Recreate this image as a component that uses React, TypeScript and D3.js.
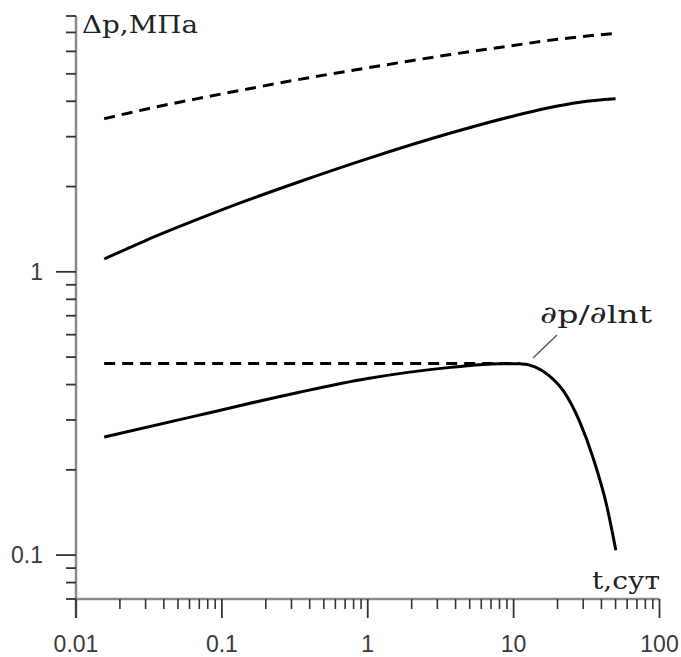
import React from "react";
import * as d3 from "d3";

// ---- Data ----
const xTickLabels = ["0.01", "0.1", "1", "10", "100"];
const xMajorTicks = [0.01, 0.1, 1, 10, 100];
const yMajorTicks = [0.1, 1];
const yTickLabels = ["0.1", "1"];

// Δp, infinite-acting (dashed)
const dashedPressureT = [0.0156, 0.03, 0.07, 0.15, 0.34, 1, 3.7, 10, 20, 50];
const dashedPressure = [3.47, 3.75, 4.1, 4.42, 4.78, 5.25, 5.85, 6.3, 6.62, 6.95];

// Δp, bounded (solid)
const solidPressureT = [0.0156, 0.03, 0.07, 0.15, 0.34, 1, 3.7, 10, 16.8, 28.5, 50];
const solidPressure = [1.11, 1.29, 1.54, 1.79, 2.08, 2.51, 3.09, 3.55, 3.78, 3.97, 4.08];

// ∂p/∂lnt, infinite-acting (dashed)
const dashedDerivT = [0.0156, 11];
const dashedDeriv = [0.475, 0.475];

// ∂p/∂lnt, bounded (solid)
const solidDerivT = [0.0156, 0.07, 0.34, 1, 3.7, 8, 11, 14, 17.5, 22, 28.5, 35.1, 43.4, 50.2];
const solidDeriv = [0.261, 0.312, 0.376, 0.42, 0.46, 0.474, 0.474, 0.462, 0.43, 0.379, 0.294, 0.22, 0.15, 0.104];

const yAxisLabel = "Δp,МПа";
const xAxisLabel = "t,сут";
const derivLabel = "∂p/∂lnt";

export default function App() {
  const W = 681;
  const H = 657;
  const x = d3.scaleLog().domain([0.01, 100]).range([76, 659.5]);
  const y = d3.scaleLog().domain([0.07, 8]).range([599, 16]);

  const line = (ts: number[], vs: number[]) =>
    d3
      .line<number>()
      .x((_, i) => x(ts[i]))
      .y((v) => y(v))
      .curve(d3.curveMonotoneX)(vs) || "";

  // minor ticks
  const xMinor: number[] = [];
  for (let d = 0.01; d < 100; d *= 10) {
    for (let k = 2; k <= 9; k++) xMinor.push(+(d * k).toPrecision(3));
  }
  const yMinor: number[] = [0.07, 0.08, 0.09];
  for (let k = 2; k <= 9; k++) yMinor.push(+(0.1 * k).toPrecision(3));
  for (let k = 2; k <= 8; k++) yMinor.push(k);

  const axisColor = "#8a8a8a";
  const tickColor = "#333";
  const sans = "'Liberation Sans', Arial, sans-serif";
  const serif = "'DejaVu Serif', serif";

  return (
    <svg
      width={W}
      height={H}
      style={{ position: "absolute", left: 0, top: 0, background: "#fff" }}
    >
      {/* axes */}
      <line x1={x(0.01)} y1={y(8)} x2={x(0.01)} y2={618} stroke={axisColor} strokeWidth={2.5} />
      <line x1={x(0.01)} y1={599} x2={x(100)} y2={599} stroke={axisColor} strokeWidth={2.5} />

      {/* x ticks */}
      {xMinor.map((t) => (
        <line key={"xm" + t} x1={x(t)} x2={x(t)} y1={599} y2={609} stroke={tickColor} strokeWidth={1.6} />
      ))}
      {xMajorTicks.map((t) => (
        <line key={"xM" + t} x1={x(t)} x2={x(t)} y1={599} y2={618} stroke={tickColor} strokeWidth={1.8} />
      ))}
      {xMajorTicks.map((t, i) => (
        <text
          key={"xl" + t}
          x={x(t)}
          y={651.5}
          textAnchor="middle"
          fontFamily={sans}
          fontSize={23}
          fill="#3a3a3a"
        >
          {xTickLabels[i]}
        </text>
      ))}

      {/* y ticks */}
      {yMinor.map((v) => (
        <line key={"ym" + v} x1={66} x2={x(0.01)} y1={y(v)} y2={y(v)} stroke={tickColor} strokeWidth={1.8} />
      ))}
      {yMajorTicks.map((v) => (
        <line key={"yM" + v} x1={56} x2={x(0.01)} y1={y(v)} y2={y(v)} stroke={tickColor} strokeWidth={1.8} />
      ))}
      {yMajorTicks.map((v, i) => (
        <text
          key={"yl" + v}
          x={43}
          y={y(v) + 8}
          textAnchor="end"
          fontFamily={sans}
          fontSize={23}
          fill="#3a3a3a"
        >
          {yTickLabels[i]}
        </text>
      ))}

      {/* curves */}
      <path d={line(solidPressureT, solidPressure)} fill="none" stroke="#000" strokeWidth={3} />
      <path
        d={line(dashedPressureT, dashedPressure)}
        fill="none"
        stroke="#000"
        strokeWidth={3}
        strokeDasharray="11 7"
      />
      <path d={line(solidDerivT, solidDeriv)} fill="none" stroke="#000" strokeWidth={3} />
      <path
        d={line(dashedDerivT, dashedDeriv)}
        fill="none"
        stroke="#000"
        strokeWidth={3}
        strokeDasharray="11 7"
      />

      {/* annotation */}
      <line x1={557} y1={335} x2={533} y2={358} stroke="#555" strokeWidth={1.4} />
      <text x={540} y={323} fontFamily={serif} fontSize={24} fill="#222" textLength={112} lengthAdjust="spacingAndGlyphs">
        {derivLabel}
      </text>

      {/* axis labels */}
      <text x={82} y={33} fontFamily={serif} fontSize={24} fill="#222" textLength={116} lengthAdjust="spacingAndGlyphs">
        {yAxisLabel}
      </text>
      <text x={592} y={588.5} fontFamily={serif} fontSize={24} fill="#222" textLength={68} lengthAdjust="spacingAndGlyphs">
        {xAxisLabel}
      </text>
    </svg>
  );
}
